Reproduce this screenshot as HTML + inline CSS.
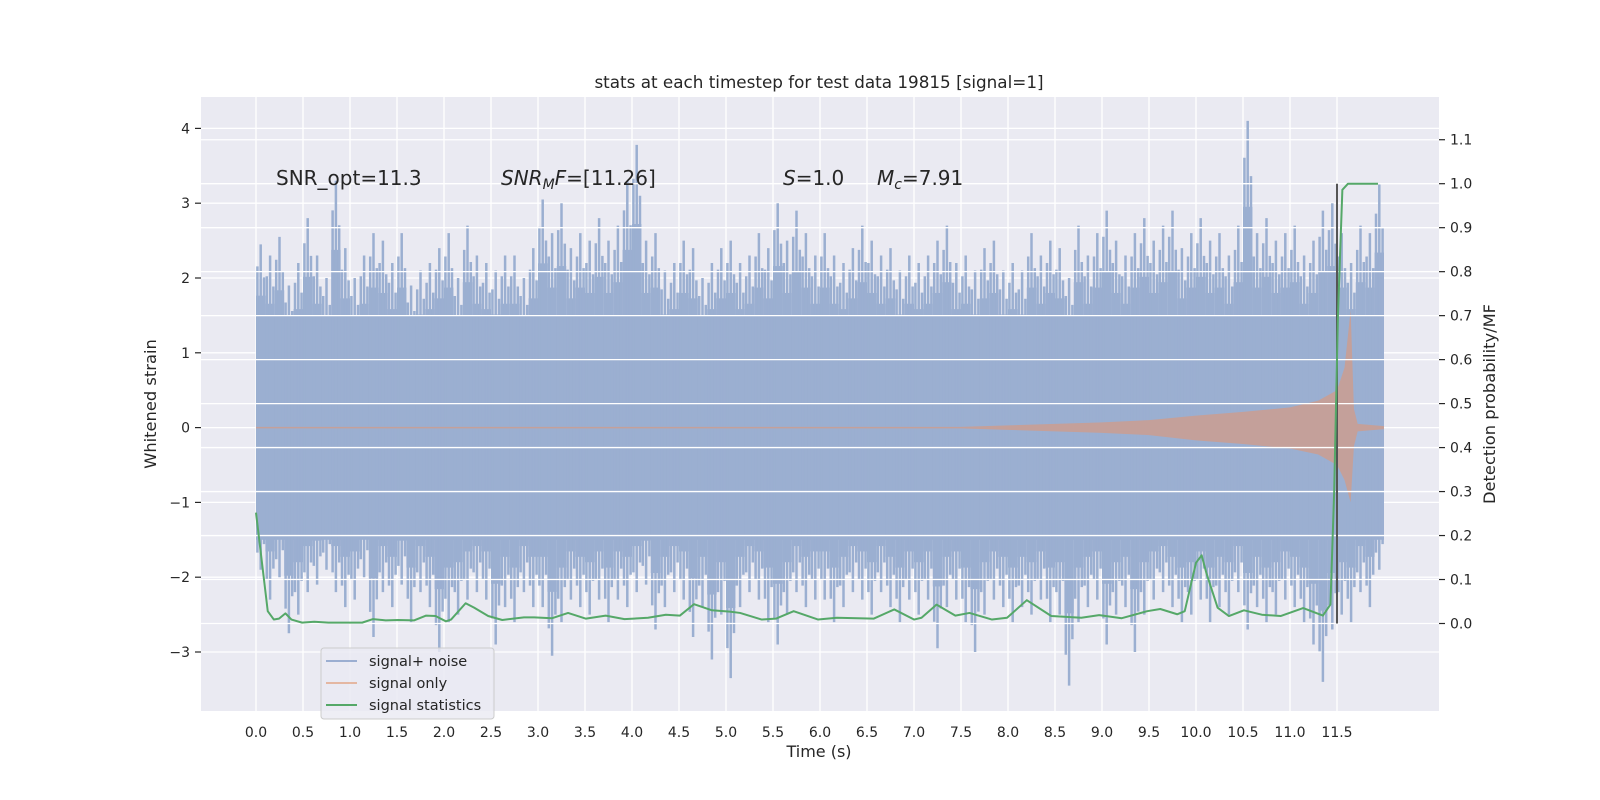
<!DOCTYPE html>
<html><head><meta charset="utf-8"><style>
html,body{margin:0;padding:0;background:#fff;}
svg{display:block;font-family:"DejaVu Sans","Liberation Sans",sans-serif;}
</style></head><body>
<svg id="chart" width="1600" height="800" viewBox="0 0 1600 800" xmlns="http://www.w3.org/2000/svg">
<rect x="0" y="0" width="1600" height="800" fill="#ffffff"/>
<rect x="201" y="97" width="1238" height="614" fill="#eaeaf2"/>
<g id="gridL"></g>
<g id="noise"></g>
<g id="sig"></g>
<g id="gridR"></g>
<g id="stat"></g>
<g id="axes"></g>
<text x="819" y="88" font-size="16.8" text-anchor="middle" fill="#262626">stats at each timestep for test data 19815 [signal=1]</text>
<text x="276" y="185" font-size="20" fill="#262626">SNR_opt=11.3</text>
<text x="501" y="185" font-size="20" fill="#262626"><tspan font-style="italic">SNR</tspan><tspan font-style="italic" font-size="14" dy="4">M</tspan><tspan font-style="italic" dy="-4">F</tspan>=[11.26]</text>
<text x="783" y="185" font-size="20" fill="#262626"><tspan font-style="italic">S</tspan>=1.0</text>
<text x="877" y="185" font-size="20" fill="#262626"><tspan font-style="italic">M</tspan><tspan font-style="italic" font-size="14" dy="4">c</tspan><tspan dy="-4">=7.91</tspan></text>
<text x="819" y="757" font-size="16" text-anchor="middle" fill="#262626">Time (s)</text>
<text transform="translate(156,404) rotate(-90)" font-size="16.3" text-anchor="middle" fill="#262626">Whitened strain</text>
<text transform="translate(1495,404) rotate(-90)" font-size="16.3" text-anchor="middle" fill="#262626">Detection probability/MF</text>
<g>
<rect x="321" y="648" width="173" height="71" rx="3" fill="#eaeaf2" fill-opacity="0.8" stroke="#cccccc"/>
<line x1="326" y1="661" x2="357" y2="661" stroke="#4c72b0" stroke-opacity="0.5" stroke-width="2"/>
<text x="369" y="666" font-size="14.5" fill="#262626">signal+ noise</text>
<line x1="326" y1="683" x2="357" y2="683" stroke="#dd8452" stroke-opacity="0.5" stroke-width="2"/>
<text x="369" y="688" font-size="14.5" fill="#262626">signal only</text>
<line x1="326" y1="705" x2="357" y2="705" stroke="#55a868" stroke-width="2"/>
<text x="369" y="710" font-size="14.5" fill="#262626">signal statistics</text>
</g>
</svg>
<script>
const NS="http://www.w3.org/2000/svg";
const xTicks=[0,0.5,1,1.5,2,2.5,3,3.5,4,4.5,5,5.5,6,6.5,7,7.5,8,8.5,9,9.5,10,10.5,11,11.5];
const leftTicks=[-3,-2,-1,0,1,2,3,4];
const rightTicks=[0,0.1,0.2,0.3,0.4,0.5,0.6,0.7,0.8,0.9,1.0,1.1];
const noiseUpper=[2.45,2.3,2.55,1.9,2.2,2.8,2.3,2.0,3.3,2.4,2.0,2.3,2.6,2.5,2.2,2.6,1.9,2.1,2.2,2.4,2.6,2.0,2.7,2.3,2.2,2.1,2.3,2.3,2.0,2.4,3.05,2.6,3.0,2.4,2.6,2.5,2.8,2.5,2.7,3.3,3.78,2.5,2.6,2.1,2.2,2.5,2.4,2.0,2.2,2.4,2.5,2.2,2.3,2.6,2.4,3.0,2.5,2.9,2.6,2.3,2.6,2.3,2.2,2.4,2.7,2.5,2.3,2.4,2.1,2.3,2.2,2.3,2.5,2.7,2.2,2.3,2.1,2.4,2.5,2.1,2.2,2.1,2.6,2.3,2.5,2.4,2.0,2.7,2.3,2.6,2.9,2.5,2.3,2.6,2.8,2.5,2.7,2.9,2.4,2.6,2.8,2.5,2.6,2.3,2.7,4.1,2.6,2.8,2.5,2.6,2.7,2.3,2.5,2.9,3.0,2.6,2.2,2.7,2.6,3.25];
const noiseLower=[-1.9,-2.3,-2.0,-2.75,-2.5,-2.2,-2.1,-1.9,-2.2,-2.4,-2.3,-2.0,-2.8,-2.2,-2.4,-2.1,-2.6,-2.2,-2.4,-3.0,-2.6,-2.5,-2.3,-2.2,-2.3,-2.9,-2.4,-2.6,-2.2,-2.4,-2.4,-3.05,-2.6,-2.3,-2.4,-2.5,-2.3,-2.6,-2.3,-2.4,-2.2,-2.1,-2.7,-2.4,-2.2,-2.3,-2.8,-2.4,-3.1,-2.5,-3.35,-2.4,-2.2,-2.3,-2.6,-2.9,-2.5,-2.2,-2.4,-2.3,-2.3,-2.6,-2.4,-2.2,-2.3,-2.5,-2.2,-2.4,-2.6,-2.3,-2.5,-2.3,-2.95,-2.4,-2.3,-2.6,-3.0,-2.5,-2.3,-2.4,-2.6,-2.4,-2.5,-2.3,-2.6,-2.5,-3.45,-2.6,-2.4,-2.3,-2.9,-2.5,-2.4,-3.0,-2.5,-2.3,-2.2,-2.4,-2.6,-2.5,-2.3,-2.6,-2.4,-2.5,-2.2,-2.7,-2.4,-2.6,-2.5,-2.3,-2.4,-2.6,-2.9,-3.4,-2.7,-2.5,-2.6,-2.2,-2.4,-1.9];
const sigTimes=[0,7.5,8,8.5,9,9.5,10,10.5,11,11.3,11.5,11.58,11.645,11.68,11.72,12.0];
const sigUpper=[0.01,0.01,0.03,0.05,0.07,0.1,0.16,0.21,0.27,0.36,0.5,0.8,1.57,0.25,0.05,0.02];
const sigLower=[0.01,0.01,0.03,0.05,0.07,0.1,0.17,0.22,0.28,0.36,0.5,0.7,1.0,0.25,0.05,0.02];
const statTimes=[0,0.125,0.19,0.245,0.313,0.377,0.49,0.62,0.77,0.96,1.13,1.245,1.38,1.51,1.68,1.81,1.91,2.02,2.075,2.23,2.32,2.47,2.62,2.85,2.96,3.15,3.32,3.51,3.72,3.92,4.17,4.36,4.51,4.66,4.85,5.04,5.15,5.38,5.53,5.72,5.98,6.18,6.57,6.79,7.0,7.08,7.24,7.44,7.59,7.83,7.99,8.2,8.46,8.78,8.97,9.21,9.48,9.62,9.8,9.88,10.0,10.06,10.11,10.23,10.35,10.51,10.7,10.9,11.14,11.35,11.43,11.47,11.51,11.557,11.617,11.936];
const statValues=[0.252,0.028,0.009,0.011,0.023,0.009,0.002,0.004,0.002,0.002,0.002,0.01,0.007,0.008,0.007,0.018,0.017,0.005,0.009,0.046,0.036,0.017,0.008,0.014,0.014,0.012,0.024,0.011,0.018,0.01,0.013,0.02,0.018,0.044,0.03,0.027,0.024,0.009,0.011,0.028,0.009,0.013,0.011,0.032,0.009,0.013,0.043,0.018,0.024,0.009,0.013,0.053,0.017,0.013,0.019,0.012,0.028,0.033,0.021,0.028,0.138,0.155,0.115,0.036,0.017,0.03,0.02,0.017,0.035,0.018,0.043,0.3,0.7,0.986,1.0,1.0];
const markerTime=11.5;

const X=t=>256+t*94;
const YL=v=>427.6-v*74.8;
const YR=v=>623.5-v*439.8;
function mk(tag,attrs,parent){const e=document.createElementNS(NS,tag);for(const k in attrs)e.setAttribute(k,attrs[k]);parent.appendChild(e);return e;}
const gL=document.getElementById('gridL'),gR=document.getElementById('gridR'),ax=document.getElementById('axes');
xTicks.forEach(t=>{
  const l=mk('line',{x1:X(t),x2:X(t),y1:97,y2:711,stroke:'#fff','stroke-width':1.3},gL);
  
  
  const tx=mk('text',{x:X(t),y:737,'font-size':14,'text-anchor':'middle',fill:'#262626'},ax);
  tx.textContent=t.toFixed(1);
  
  
});
leftTicks.forEach(v=>{
  const l=mk('line',{x1:201,x2:1439,y1:YL(v),y2:YL(v),stroke:'#fff','stroke-width':1.3},gL);
  
  
  const tk=mk('line',{x1:195,x2:201,y1:YL(v),y2:YL(v),stroke:'#262626','stroke-width':1.2},ax);
  
  
  const tx=mk('text',{x:190,y:YL(v)+5,'font-size':14,'text-anchor':'end',fill:'#262626'},ax);
  tx.textContent=v<0?'\u2212'+Math.abs(v):String(v);
  
  
});
rightTicks.forEach(v=>{
  const l=mk('line',{x1:201,x2:1439,y1:YR(v),y2:YR(v),stroke:'#fff','stroke-width':1.3},gR);
  
  
  const tk=mk('line',{x1:1439,x2:1445,y1:YR(v),y2:YR(v),stroke:'#262626','stroke-width':1.2},ax);
  
  
  const tx=mk('text',{x:1450,y:YR(v)+5,'font-size':14,fill:'#262626'},ax);
  tx.textContent=v.toFixed(1);
  
  
});
// noise
const nz=document.getElementById('noise');const blue='#9bafd1';
mk('rect',{x:X(0),y:YL(1.5),width:X(12)-X(0),height:YL(-1.5)-YL(1.5),fill:blue},nz);
noiseUpper.forEach((u,i)=>{
  const lo=noiseLower[i];const t0=i*0.1;
  const r=mk('rect',{x:X(t0),y:YL(u*0.72),width:X(t0+0.1)-X(t0),height:YL(lo*0.72)-YL(u*0.72),fill:blue},nz);
  
  
  [[0.015,0.88],[0.05,1.0],[0.085,0.82]].forEach(([o,f])=>{
    const s=mk('line',{x1:X(t0+o),x2:X(t0+o),y1:YL(u*f),y2:YL(lo*f),stroke:blue,'stroke-width':2.5},nz);
    
    
  });
});
// signal
const sg=document.getElementById('sig');
let pts=sigTimes.map((t,i)=>X(t)+','+YL(sigUpper[i]));
for(let i=sigTimes.length-1;i>=0;i--)pts.push(X(sigTimes[i])+','+YL(-sigLower[i]));
mk('polygon',{points:pts.join(' '),fill:'#c4a09a'},sg);
// stats
const st=document.getElementById('stat');
const mkr=mk('line',{x1:X(markerTime),x2:X(markerTime),y1:YR(1.0),y2:YR(0),stroke:'#555','stroke-width':2},st);


mk('polyline',{points:statTimes.map((t,i)=>X(t)+','+YR(statValues[i])).join(' '),fill:'none',stroke:'#55a868','stroke-width':2,'stroke-linejoin':'round'},st);
</script>
</body></html>
